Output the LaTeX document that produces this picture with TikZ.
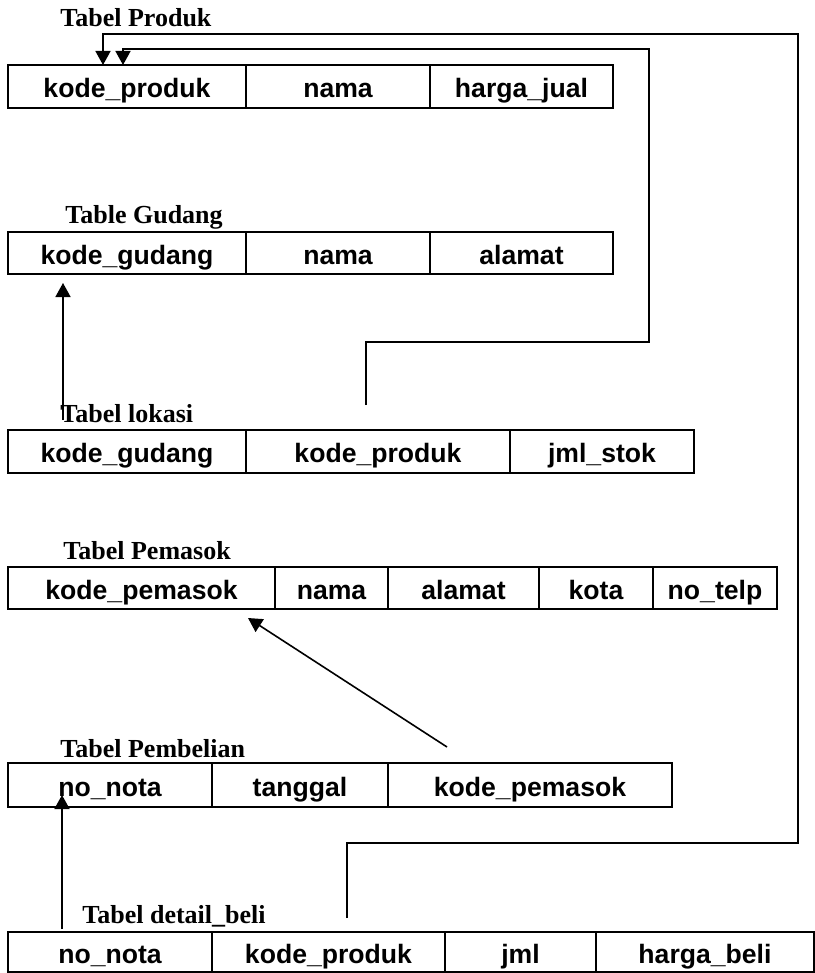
\documentclass[tikz,border=0pt]{standalone}
\usepackage{fontspec}
\setmainfont{Liberation Serif}
\setsansfont{Liberation Sans}
\usetikzlibrary{positioning,arrows.meta}

\tikzset{
	cell/.style={draw, line width=1.1pt, rectangle, inner sep=0pt, outer sep=0pt,
		text height=12pt, text depth=1pt,
		font=\sffamily\bfseries\fontsize{13.3}{16}\selectfont},
	tabtitle/.style={anchor=base west, inner sep=0pt,
		font=\rmfamily\bfseries\fontsize{13}{15}\selectfont},
	link/.style={line width=0.8pt, ->},
}

\begin{document}
\begin{tikzpicture}[x=1pt, y=-1pt, >={Triangle[length=7pt,width=7.5pt]}]
\useasboundingbox (0,0) rectangle (407,486.5);

%% Tabel Produk
\node[tabtitle] (t-pr) at (30,13.5) {Tabel Produk};
\node[cell, minimum width=119pt, minimum height=21.5pt, anchor=north west] (pr-kode) at (4,32.5) {kode\_produk};
\node[cell, minimum width=92pt, minimum height=21.5pt, right=0pt of pr-kode] (pr-nama) {nama};
\node[cell, minimum width=91.5pt, minimum height=21.5pt, right=0pt of pr-nama] (pr-harga) {harga\_jual};

%% Table Gudang
\node[tabtitle] (t-gd) at (32.5,111.5) {Table Gudang};
\node[cell, minimum width=119pt, minimum height=21pt, anchor=north west] (gd-kode) at (4,116) {kode\_gudang};
\node[cell, minimum width=92pt, minimum height=21pt, right=0pt of gd-kode] (gd-nama) {nama};
\node[cell, minimum width=91.5pt, minimum height=21pt, right=0pt of gd-nama] (gd-alamat) {alamat};

%% Tabel lokasi
\node[tabtitle] (t-lk) at (30,211) {Tabel lokasi};
\node[cell, minimum width=119pt, minimum height=21.5pt, anchor=north west] (lk-gud) at (4,215) {kode\_gudang};
\node[cell, minimum width=132pt, minimum height=21.5pt, right=0pt of lk-gud] (lk-prod) {kode\_produk};
\node[cell, minimum width=92pt, minimum height=21.5pt, right=0pt of lk-prod] (lk-stok) {jml\_stok};

%% Tabel Pemasok
\node[tabtitle] (t-pm) at (31.5,279.5) {Tabel Pemasok};
\node[cell, minimum width=133.5pt, minimum height=21pt, anchor=north west] (pm-kode) at (4,283.5) {kode\_pemasok};
\node[cell, minimum width=56.5pt, minimum height=21pt, right=0pt of pm-kode] (pm-nama) {nama};
\node[cell, minimum width=75.5pt, minimum height=21pt, right=0pt of pm-nama] (pm-alamat) {alamat};
\node[cell, minimum width=57pt, minimum height=21pt, right=0pt of pm-alamat] (pm-kota) {kota};
\node[cell, minimum width=62pt, minimum height=21pt, right=0pt of pm-kota] (pm-telp) {no\_telp};

%% Tabel Pembelian
\node[tabtitle] (t-pb) at (30,378.5) {Tabel Pembelian};
\node[cell, minimum width=102pt, minimum height=22pt, anchor=north west] (pb-nota) at (4,381.5) {no\_nota};
\node[cell, minimum width=88pt, minimum height=22pt, right=0pt of pb-nota] (pb-tgl) {tanggal};
\node[cell, minimum width=142pt, minimum height=22pt, right=0pt of pb-tgl] (pb-kode) {kode\_pemasok};

%% Tabel detail_beli
\node[tabtitle] (t-dt) at (41,461.5) {Tabel detail\_beli};
\node[cell, minimum width=102pt, minimum height=20pt, anchor=north west] (dt-nota) at (4,466) {no\_nota};
\node[cell, minimum width=116.5pt, minimum height=20pt, right=0pt of dt-nota] (dt-prod) {kode\_produk};
\node[cell, minimum width=75.5pt, minimum height=20pt, right=0pt of dt-prod] (dt-jml) {jml};
\node[cell, minimum width=109pt, minimum height=20pt, right=0pt of dt-jml] (dt-harga) {harga\_beli};

%% Relasi
\coordinate (k1a) at (173.5,421.5);
\coordinate (k1b) at (399,17);
\coordinate (k2a) at (183,171);
\coordinate (k2b) at (324.5,24.5);

\draw[link] ([xshift=9.25pt,yshift=7pt]dt-prod.north) -- (k1a) -| (k1b) -| ([xshift=-12pt]pr-kode.north);
\draw[link] ([xshift=-6pt,yshift=12.5pt]lk-prod.north) -- (k2a) -| (k2b) -| ([xshift=-2pt]pr-kode.north);
\draw[link] ([xshift=-32pt,yshift=5pt]lk-gud.north) -- ([xshift=-32pt,yshift=-4.5pt]gd-kode.south);
\draw[link] ([xshift=-41.5pt,yshift=8pt]pb-kode.north) -- ([xshift=53.25pt,yshift=-4.5pt]pm-kode.south);
\draw[link] ([xshift=-24pt,yshift=1.5pt]dt-nota.north) -- ([xshift=-24pt,yshift=6pt]pb-nota.south);

\end{tikzpicture}
\end{document}
